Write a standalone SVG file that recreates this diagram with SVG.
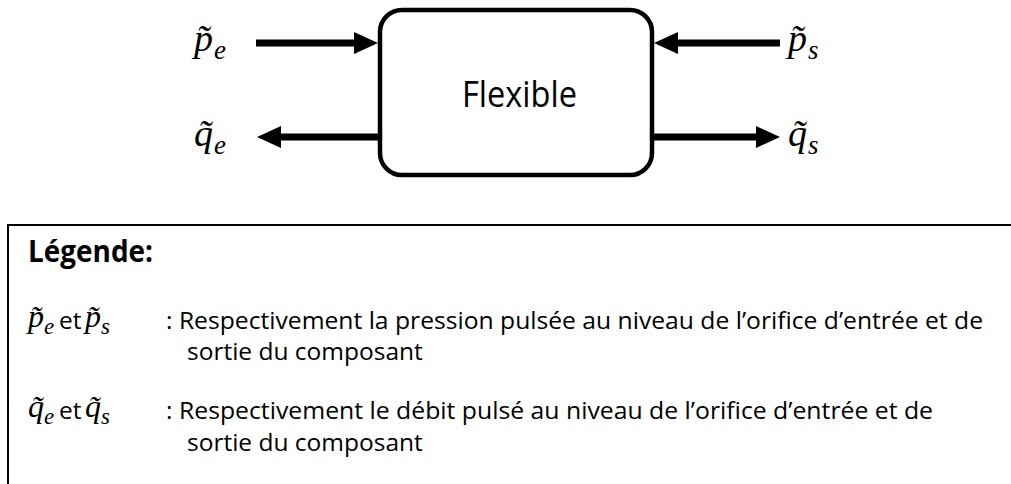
<svg xmlns="http://www.w3.org/2000/svg" width="1011" height="484" viewBox="0 0 1011 484">
<style>
.math{font-family:"Liberation Serif","DejaVu Serif",serif;font-style:italic;fill:#000}
.big{font-size:38px}
.sub{font-size:27px}
.lbig{font-size:32px}
.lsub{font-size:23px}
.txt{font-family:"Open Sans","Noto Sans","Liberation Sans",sans-serif;fill:#000}
.body{font-size:24.5px}
.conn{stroke:#000;stroke-width:7;fill:none}
</style>
<defs>
<marker id="ah" viewBox="0 0 24 22" refX="12" refY="11" markerWidth="24" markerHeight="22" markerUnits="userSpaceOnUse" orient="auto">
<path d="M0,0 L24,11 L0,22 z" fill="#000"/>
</marker>
</defs>
<rect width="1011" height="484" fill="#fff"/>
<g id="flexible">
<rect x="380" y="10" width="272" height="165" rx="22" fill="#fff" stroke="#000" stroke-width="4.5"/>
<text class="txt" x="462" y="107" font-size="36" textLength="115" lengthAdjust="spacingAndGlyphs">Flexible</text>
</g>
<g id="labels">
<text class="math big" x="194" y="51">p̃</text><text class="math sub" x="214" y="59">e</text>
<text class="math big" x="194" y="146">q̃</text><text class="math sub" x="214" y="154">e</text>
<text class="math big" x="788" y="51">p̃</text><text class="math sub" x="808" y="59">s</text>
<text class="math big" x="788" y="146">q̃</text><text class="math sub" x="808" y="154">s</text>
</g>
<g id="connectors">
<line class="conn" x1="256" y1="43" x2="366" y2="43" marker-end="url(#ah)"/>
<line class="conn" x1="380" y1="137" x2="269" y2="137" marker-end="url(#ah)"/>
<line class="conn" x1="780" y1="43" x2="666" y2="43" marker-end="url(#ah)"/>
<line class="conn" x1="652" y1="137" x2="768" y2="137" marker-end="url(#ah)"/>
</g>
<g id="legend">
<rect x="8" y="225" width="1010" height="270" fill="none" stroke="#000" stroke-width="2"/>
<text class="txt" x="28" y="262" font-size="30" font-weight="bold" textLength="125" lengthAdjust="spacingAndGlyphs">Légende:</text>
<text class="math lbig" x="28" y="327">p̃</text><text class="math lsub" x="44" y="334">e</text>
<text class="txt body" x="59" y="329">et</text>
<text class="math lbig" x="85" y="327">p̃</text><text class="math lsub" x="101" y="334">s</text>
<text class="txt body" x="166" y="329" textLength="817" lengthAdjust="spacingAndGlyphs">: Respectivement la pression pulsée au niveau de l’orifice d’entrée et de</text>
<text class="txt body" x="187" y="360">sortie du composant</text>
<text class="math lbig" x="28" y="417">q̃</text><text class="math lsub" x="44" y="424">e</text>
<text class="txt body" x="59" y="419">et</text>
<text class="math lbig" x="85" y="417">q̃</text><text class="math lsub" x="101" y="424">s</text>
<text class="txt body" x="166" y="419" textLength="767" lengthAdjust="spacingAndGlyphs">: Respectivement le débit pulsé au niveau de l’orifice d’entrée et de</text>
<text class="txt body" x="187" y="451">sortie du composant</text>
</g>
</svg>
